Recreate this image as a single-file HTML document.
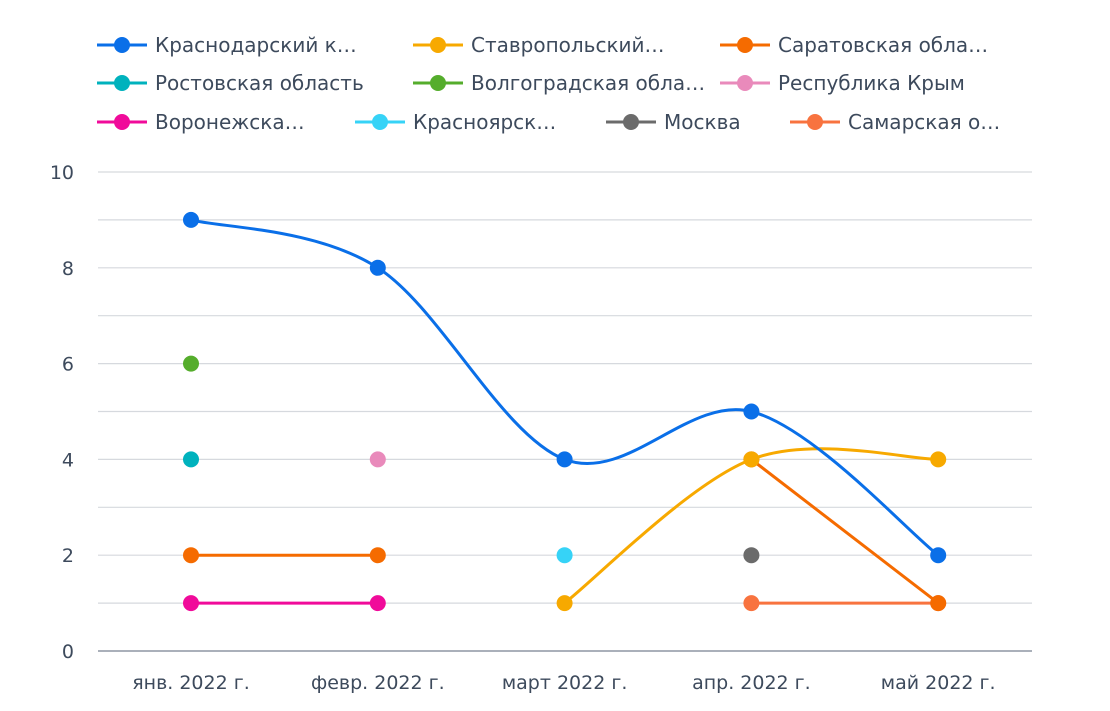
<!DOCTYPE html>
<html><head><meta charset="utf-8"><style>
body{margin:0;background:#fff;width:1110px;height:706px;overflow:hidden}
svg{font-family:"DejaVu Sans","Liberation Sans",sans-serif}
</style></head><body>
<svg id="chart" width="1110" height="706">
<g id="grid"></g>
<g id="legend"></g>
<g id="series"></g>
</svg>
<script>
const categories=["янв. 2022 г.","февр. 2022 г.","март 2022 г.","апр. 2022 г.","май 2022 г."];
const yTicks=[0,2,4,6,8,10];
const names=["Краснодарский к…","Ставропольский…","Саратовская обла…","Ростовская область","Волгоградская обла…","Республика Крым","Воронежска…","Красноярск…","Москва","Самарская о…"];
const colors=["#0a6fe8","#f7a900","#f56b00","#00b2bd","#55ad2c","#e98abb","#f00b9a","#36d3f7","#6b6b6b","#f8733f"];
const krasnodar=[9,8,4,5,2];
const stavropol=[null,null,1,4,4];
const saratov=[2,2,null,4,1];
const rostov=[4,null,null,null,null];
const volgograd=[6,null,null,null,null];
const crimea=[null,4,null,null,null];
const voronezh=[1,1,null,null,null];
const krasnoyarsk=[null,null,2,null,null];
const moscow=[null,null,null,2,null];
const samara=[null,null,null,1,1];
const seriesData=[krasnodar,stavropol,saratov,rostov,volgograd,crimea,voronezh,krasnoyarsk,moscow,samara];
const smoothFlags=[true,true,false,false,false,false,false,false,false,false];

const NS="http://www.w3.org/2000/svg";
const X0=191,DX=186.8,Y0=651,YMAX=10,YTOP=172;
const x=i=>X0+i*DX;
const y=v=>Y0-(v/YMAX)*(Y0-YTOP);
function mk(t,a,p){const e=document.createElementNS(NS,t);for(const k in a)e.setAttribute(k,a[k]);p.appendChild(e);return e;}
const grid=document.getElementById('grid');
for(let v=0;v<=YMAX;v++){
  const l=mk('line',{x1:98,x2:1032,y1:y(v),y2:y(v),stroke:v===0?'#8e96a3':'#d6d9de','stroke-width':v===0?1.5:1.2},grid);
  
  
}
yTicks.forEach(v=>{
  const t=mk('text',{x:74,y:y(v)+7,'text-anchor':'end','font-size':19,fill:'#3d4a5c'},grid);
  t.textContent=v;
  
  
});
categories.forEach((c,i)=>{
  const t=mk('text',{x:x(i),y:689,'text-anchor':'middle','font-size':19,fill:'#3d4a5c'},grid);
  t.textContent=c;
  
  
});
const lg=document.getElementById('legend');
const legendPos=[[97,45],[413,45],[720,45],[97,83],[413,83],[720,83],[97,122],[355,122],[606,122],[790,122]];
names.forEach((n,i)=>{
  const g=mk('g',{},lg);
  
  
  const lx=legendPos[i][0],ly=legendPos[i][1];
  mk('line',{x1:lx,x2:lx+50,y1:ly,y2:ly,stroke:colors[i],'stroke-width':3},g);
  mk('circle',{cx:lx+25,cy:ly,r:8,fill:colors[i]},g);
  const t=mk('text',{x:lx+58,y:ly+7,'font-size':20,fill:'#3d4a5c'},g);
  t.textContent=n;
});
const sg=document.getElementById('series');
function path(pts,smooth){
  let d=`M${pts[0][0]},${pts[0][1]}`;
  for(let i=1;i<pts.length;i++){
    if(!smooth){d+=` L${pts[i][0]},${pts[i][1]}`;continue;}
    const p0=pts[i-2]||pts[i-1],p1=pts[i-1],p2=pts[i],p3=pts[i+1]||p2,k=1/6;
    d+=` C${p1[0]+(p2[0]-p0[0])*k},${p1[1]+(p2[1]-p0[1])*k} ${p2[0]-(p3[0]-p1[0])*k},${p2[1]-(p3[1]-p1[1])*k} ${p2[0]},${p2[1]}`;
  }
  return d;
}
for(let s=seriesData.length-1;s>=0;s--){
  const data=seriesData[s];
  const g=mk('g',{},sg);
  
  
  let run=[];
  const flush=()=>{if(run.length>1){const p=mk('path',{d:path(run,smoothFlags[s]),fill:'none',stroke:colors[s],'stroke-width':3},g);
    
    }run=[];};
  data.forEach((v,i)=>{if(v===null){flush();}else run.push([x(i),y(v)]);});
  flush();
  data.forEach((v,i)=>{if(v===null)return;
    const c=mk('circle',{cx:x(i),cy:y(v),r:8,fill:colors[s]},g);
    
    
  });
}
</script>
</body></html>
